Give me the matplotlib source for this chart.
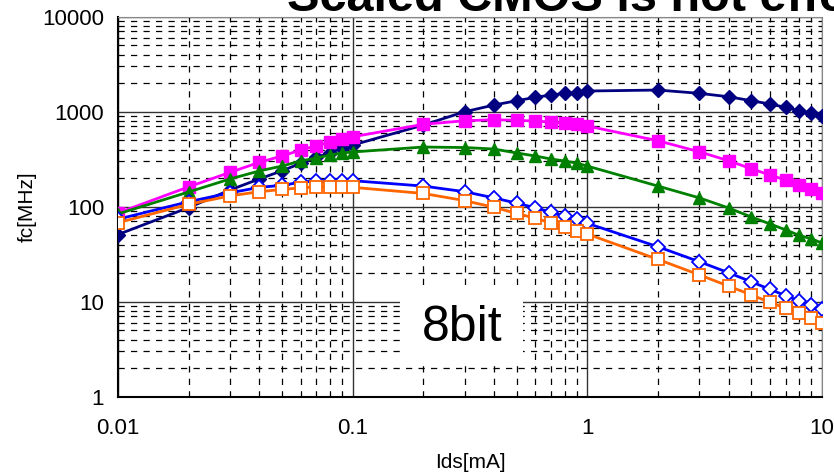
import matplotlib
matplotlib.use("Agg")
import matplotlib.pyplot as plt
from matplotlib.patches import Rectangle
from matplotlib.ticker import LogLocator, NullFormatter, FixedLocator

# Ids [mA] sample points
ids = [0.01, 0.02, 0.03, 0.04, 0.05, 0.06, 0.07, 0.08, 0.09,
       0.1, 0.2, 0.3, 0.4, 0.5, 0.6, 0.7, 0.8, 0.9,
       1, 2, 3, 4, 5, 6, 7, 8, 9, 10]

# fc [MHz] per series
fc_navy = [51, 98, 150, 196, 239, 286, 331, 370, 412,
           446, 724, 1000, 1176, 1306, 1418, 1499, 1562, 1585,
           1652, 1692, 1562, 1438, 1306, 1205, 1113, 1025, 962, 901]
fc_magenta = [86, 162, 230, 293, 342, 395, 439, 480, 512,
              545, 737, 804, 824, 812, 798, 779, 755, 737,
              707, 495, 379, 305, 251, 216, 191, 169, 154, 140]
fc_green = [84, 143, 196, 238, 268, 303, 326, 350, 368,
            377, 425, 420, 405, 368, 342, 318, 303, 288,
            268, 165, 124, 97, 78, 66, 57, 50, 46, 41.5]
fc_blue = [74, 113, 140, 160, 168, 181, 187, 188, 188,
           188, 165, 144, 124, 109, 97.6, 87.3, 79.8, 73.7,
           66.9, 37.9, 26.4, 20.2, 16.2, 13.5, 11.6, 10.2, 9.2, 8.4]
fc_orange = [68, 106, 130, 144, 152, 158, 162, 162, 162,
             160, 138, 116, 98.6, 85.2, 75.5, 67.9, 60.7, 55.9,
             51.6, 27.9, 19.2, 14.6, 11.8, 9.86, 8.53, 7.55, 6.79, 6.0]

x_ticks = [0.01, 0.1, 1, 10]
x_labels = ["0.01", "0.1", "1", "10"]
y_ticks = [1, 10, 100, 1000, 10000]
y_labels = ["1", "10", "100", "1000", "10000"]

plt.rcParams['font.family'] = ['Liberation Sans', 'DejaVu Sans']

fig = plt.figure(figsize=(8.34, 4.74), dpi=100)
ax = fig.add_axes([0.1415, 0.163, 0.8441, 0.8017])

ax.set_xscale("log")
ax.set_yscale("log")
ax.set_xlim(0.01, 10)
ax.set_ylim(1, 10000)

# grid: solid major, dashed minor
ax.xaxis.set_minor_locator(LogLocator(base=10, subs=range(2, 10)))
ax.yaxis.set_minor_locator(LogLocator(base=10, subs=range(2, 10)))
ax.xaxis.set_minor_formatter(NullFormatter())
ax.yaxis.set_minor_formatter(NullFormatter())
ax.grid(which="major", color="#333333", linestyle="-", linewidth=1.0)
ax.grid(which="minor", color="black", linestyle=(0, (5, 5)), linewidth=0.9)
ax.set_axisbelow(True)

ax.xaxis.set_major_locator(FixedLocator(x_ticks))
ax.yaxis.set_major_locator(FixedLocator(y_ticks))
ax.set_xticklabels(x_labels)
ax.set_yticklabels(y_labels)
ax.tick_params(which="both", length=0, labelsize=16)
ax.tick_params(axis="x", pad=15)
ax.tick_params(axis="y", pad=10)

for s in ["top", "right"]:
    ax.spines[s].set_color("#888888")
for s in ["left", "bottom"]:
    ax.spines[s].set_color("black")
    ax.spines[s].set_linewidth(1.5)

ax.plot(ids, fc_navy, color="#000080", lw=2, marker="D", ms=7.5,
        mfc="#000080", mec="#000080", zorder=3)
ax.plot(ids, fc_magenta, color="#FF00FF", lw=2, marker="s", ms=9,
        mfc="#FF00FF", mec="#FF00FF", zorder=4)
ax.plot(ids, fc_green, color="#008000", lw=2, marker="^", ms=9,
        mfc="#008000", mec="#008000", zorder=5)
ax.plot(ids, fc_blue, color="#0000FF", lw=2, marker="D", ms=7,
        mfc="white", mec="#0000FF", mew=1.3, zorder=6)
ax.plot(ids, fc_orange, color="#FF6600", lw=2, marker="s", ms=9,
        mfc="white", mec="#FF6600", mew=1.3, zorder=7)

ax.set_xlabel("Ids[mA]", fontsize=15)
ax.set_ylabel("fc[MHz]", fontsize=15)
ax.xaxis.set_label_coords(0.5, -0.148)
ax.yaxis.set_label_coords(-0.116, 0.5)

# "8bit" label box
ax.add_patch(Rectangle((0.4006, 0.0913), 0.1747, 0.2026, transform=ax.transAxes,
                       facecolor="white", edgecolor="none", zorder=2.5))
ax.text(0.4886, 0.181, "8bit", transform=ax.transAxes, fontsize=36,
        ha="center", va="center", zorder=8)

fig.text(0.344, 0.9774, "Scaled CMOS is not effective", fontsize=35,
         fontweight="bold", ha="left", va="baseline")

fig.savefig("out.png", dpi=100)
